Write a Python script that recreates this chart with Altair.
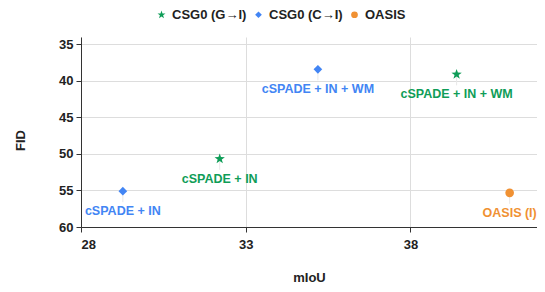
import altair as alt
import pandas as pd

series = ["CSG0 (G→I)", "CSG0 (G→I)", "CSG0 (C→I)", "CSG0 (C→I)", "OASIS"]
labels = ["cSPADE + IN", "cSPADE + IN + WM", "cSPADE + IN", "cSPADE + IN + WM", "OASIS (I)"]
miou = [32.21, 39.40, 29.27, 35.19, 41.01]
fid = [50.67, 39.11, 55.1, 38.43, 55.33]

order = ["CSG0 (G→I)", "CSG0 (C→I)", "OASIS"]
colors = ["#0F9D58", "#4285F4", "#F09133"]
star = ("M0,-1.25L0.294,-0.405L1.189,-0.386L0.475,0.155L0.735,1.011L0,0.5"
        "L-0.735,1.011L-0.475,0.155L-1.189,-0.386L-0.294,-0.405Z")
shapes = [star, "diamond", "circle"]

df = pd.DataFrame({"series": series, "label": labels, "miou": miou, "fid": fid})

FONT = "Liberation Sans"

x = alt.X("miou:Q", scale=alt.Scale(domain=[28, 41.84], nice=False, zero=False),
          axis=alt.Axis(title="mIoU", values=[28, 33, 38], format="d",
                        titleY=44, titleBaseline="top"))
y = alt.Y("fid:Q", scale=alt.Scale(domain=[34, 60], reverse=True, nice=False, zero=False),
          axis=alt.Axis(title="FID", values=[35, 40, 45, 50, 55, 60], format="d",
                        titleX=-61, titleY=103, titleBaseline="middle", titleAngle=-90))
color = alt.Color("series:N", scale=alt.Scale(domain=order, range=colors),
                  legend=alt.Legend(title=None, orient="none", direction="horizontal",
                                    legendX=74, legendY=-29))
shape = alt.Shape("series:N", scale=alt.Scale(domain=order, range=shapes))

base = alt.Chart(df)

stems = base.mark_rule(color="#e8e8e8", strokeWidth=1, y2Offset=11).encode(
    x=x, y=y, y2="fid:Q")

points = base.mark_point(filled=True, opacity=1, size=75).encode(
    x=x, y=y, color=color, shape=shape)

text = base.mark_text(font=FONT, fontWeight="bold", fontSize=12.5, dy=20, baseline="middle").encode(
    x=x, y=y, text="label:N",
    color=alt.Color("series:N", scale=alt.Scale(domain=order, range=colors), legend=None))

chart = alt.layer(stems, points, text).properties(
    width=456, height=190,
    autosize=alt.AutoSizeParams(type="none"),
    padding={"left": 73, "top": 29, "right": 0, "bottom": 57},
).configure_view(stroke=None).configure_axis(
    labelFont=FONT, titleFont=FONT, labelFontWeight="bold", titleFontWeight="bold",
    labelFontSize=13, titleFontSize=13, labelColor="#222222", titleColor="#222222",
    gridColor="#dddddd", domainColor="#333333", tickColor="#333333", tickSize=5,
    labelPadding=3,
).configure_axisX(labelPadding=6, grid=True).configure_legend(
    labelFont=FONT, labelFontWeight="bold", labelFontSize=13, labelColor="#222222",
    symbolSize=45, symbolStrokeWidth=0, columnPadding=5, labelOffset=4, padding=0,
)

chart.save("out.html", embed_options={"renderer": "svg", "actions": False})
